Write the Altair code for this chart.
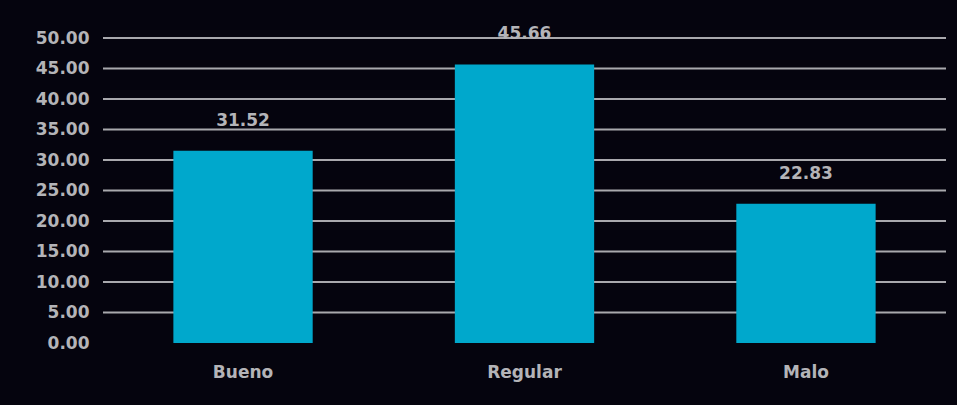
import altair as alt
import pandas as pd

categories = ["Bueno", "Regular", "Malo"]
values = [31.52, 45.66, 22.83]
tick_values = [0, 5, 10, 15, 20, 25, 30, 35, 40, 45, 50]
grid_values = [5, 10, 15, 20, 25, 30, 35, 40, 45, 50]

df = pd.DataFrame({"categoria": categories, "valor": values})
grid_df = pd.DataFrame({"g": grid_values})

BG = "#05040e"
BAR = "#00a8cc"
GRID = "#a9a9ad"
TXT = "#b4b4b8"
FONT = "DejaVu Sans"
FS = 17

yscale = alt.Scale(domain=[0, 50], nice=False)
yaxis = alt.Axis(values=tick_values, format=".2f", labelColor=TXT, labelFont=FONT,
                 labelFontSize=FS, labelFontWeight="bold", labelPadding=14,
                 ticks=False, domain=False, grid=False)

base = alt.Chart(df).encode(
    x=alt.X("categoria:N", sort=categories, title=None,
            scale=alt.Scale(paddingInner=0.505, paddingOuter=0.25),
            axis=alt.Axis(labelAngle=0, labelColor=TXT, labelFont=FONT,
                          labelFontSize=FS, labelFontWeight="bold",
                          labelPadding=21, ticks=False, domain=False, grid=False)),
    y=alt.Y("valor:Q", title=None, scale=yscale, axis=yaxis),
)

grid = alt.Chart(grid_df).mark_rule(color=GRID, strokeWidth=2).encode(
    y=alt.Y("g:Q", title=None, scale=yscale, axis=yaxis)
)

bars = base.mark_bar(color=BAR)
labels = base.mark_text(baseline="bottom", dy=-21, color=TXT, font=FONT,
                        fontSize=FS, fontWeight="bold").encode(
    text=alt.Text("valor:Q", format=".2f"))

chart = (grid + bars + labels).properties(
    width=843, height=305,
    background=BG,
    padding={"left": 103, "top": 38, "right": 11, "bottom": 62},
    autosize=alt.AutoSizeParams(type="none"),
).configure_view(stroke=None)

chart.save("out.html", embed_options={"renderer": "svg", "actions": False})
